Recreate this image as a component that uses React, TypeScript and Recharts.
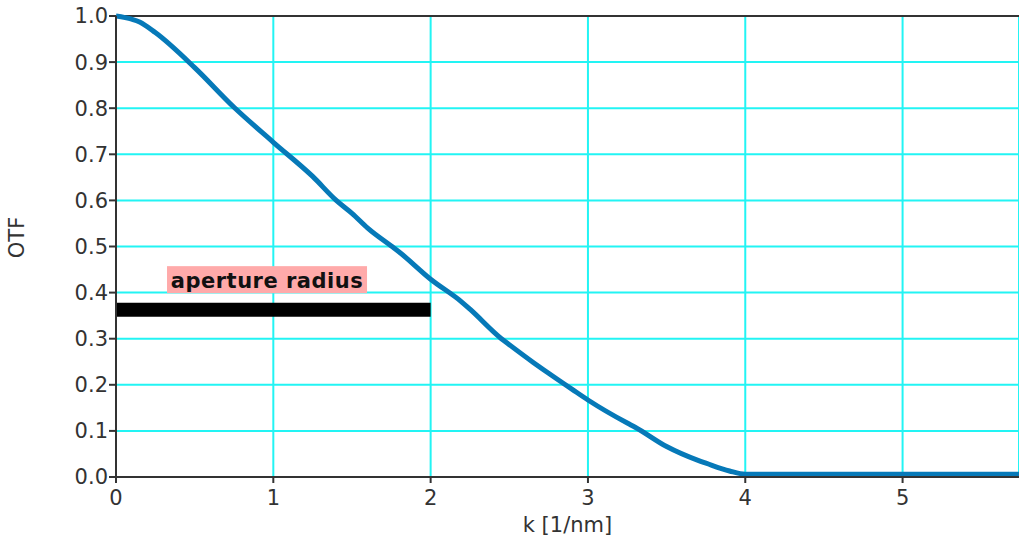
import React from "react";
import {
  LineChart,
  Line,
  XAxis,
  YAxis,
  CartesianGrid,
  ReferenceLine,
  ReferenceDot,
} from "recharts";

// k [1/nm] and OTF values
const kValues = [0, 0.1, 0.15, 0.25, 0.5, 0.75, 1.0, 1.25, 1.4, 1.5, 1.6, 1.75, 1.8, 2.0, 2.2, 2.25, 2.45, 2.5, 2.65, 2.75, 2.9, 3.0, 3.25, 3.3, 3.5, 3.7, 3.75, 3.9, 4.0, 4.5, 5.0, 5.5, 5.74];
const otfValues = [1.0, 0.993, 0.987, 0.964, 0.888, 0.802, 0.726, 0.652, 0.6, 0.572, 0.54, 0.501, 0.488, 0.429, 0.379, 0.364, 0.3, 0.287, 0.249, 0.225, 0.19, 0.167, 0.117, 0.108, 0.066, 0.036, 0.03, 0.013, 0.006, 0.006, 0.006, 0.006, 0.006];

const xTicks = [0, 1, 2, 3, 4, 5];
const yTicks = [0, 0.1, 0.2, 0.3, 0.4, 0.5, 0.6, 0.7, 0.8, 0.9, 1.0];

// aperture radius marker
const apertureRadius = 2;
const barLevel = 0.363;
const labelText = "aperture radius";
const labelK = 0.96;
const labelOtf = 0.427;

const data = kValues.map((k, i) => ({ k, otf: otfValues[i] }));

const FONT = "DejaVu Sans";
const tickStyle = { fontFamily: FONT, fontSize: 21, fill: "#333" };

const ApertureLabel = (props: any) => {
  const { cx, cy } = props;
  return (
    <g>
      <rect x={cx - 100} y={cy - 14} width={200} height={27} fill="#ffaaaa" />
      <text
        x={cx}
        y={cy + 8}
        textAnchor="middle"
        fontFamily={FONT}
        fontWeight="bold"
        fontSize={21}
        letterSpacing={0.5}
        fill="#111"
      >
        {labelText}
      </text>
    </g>
  );
};

export default function App() {
  return (
    <div style={{ width: 1019, height: 538, background: "#fff" }}>
      <style>{"body{margin:0}"}</style>
      <LineChart width={1019} height={538} data={data} margin={{ top: 16, right: 0, bottom: 0, left: 0 }}>
        <CartesianGrid stroke="#22f4f4" strokeWidth={2} />
        <XAxis
          dataKey="k"
          type="number"
          domain={[0, 5.74]}
          ticks={xTicks}
          allowDataOverflow
          height={61}
          stroke="#333"
          strokeWidth={2}
          tickSize={6}
          tickMargin={7}
          tick={tickStyle}
          tickLine={{ stroke: "#333", strokeWidth: 2 }}
          label={({ viewBox }: any) => (
            <text
              x={viewBox.x + viewBox.width / 2}
              y={viewBox.y + 55}
              textAnchor="middle"
              fontFamily={FONT}
              fontSize={21}
              fill="#333"
            >
              k [1/nm]
            </text>
          )}
        />
        <YAxis
          type="number"
          domain={[0, 1]}
          ticks={yTicks}
          width={116}
          stroke="#333"
          strokeWidth={2}
          tickSize={7}
          tickMargin={1}
          tick={tickStyle}
          tickLine={{ stroke: "#333", strokeWidth: 2 }}
          tickFormatter={(v: number) => v.toFixed(1)}
          label={({ viewBox }: any) => (
            <text
              x={17}
              y={viewBox.y + viewBox.height / 2 - 9}
              textAnchor="middle"
              dominantBaseline="central"
              transform={`rotate(-90, 17, ${viewBox.y + viewBox.height / 2 - 9})`}
              fontFamily={FONT}
              fontSize={21}
              fill="#333"
            >
              OTF
            </text>
          )}
        />
        <ReferenceLine y={1} stroke="#333" strokeWidth={2} />
        <ReferenceLine
          segment={[
            { x: 0, y: barLevel },
            { x: apertureRadius, y: barLevel },
          ]}
          stroke="#000"
          strokeWidth={14}
        />
        <ReferenceDot x={labelK} y={labelOtf} ifOverflow="visible" shape={ApertureLabel} />
        <Line
          type="monotone"
          dataKey="otf"
          stroke="#0679b8"
          strokeWidth={5}
          dot={false}
          isAnimationActive={false}
        />
      </LineChart>
    </div>
  );
}
